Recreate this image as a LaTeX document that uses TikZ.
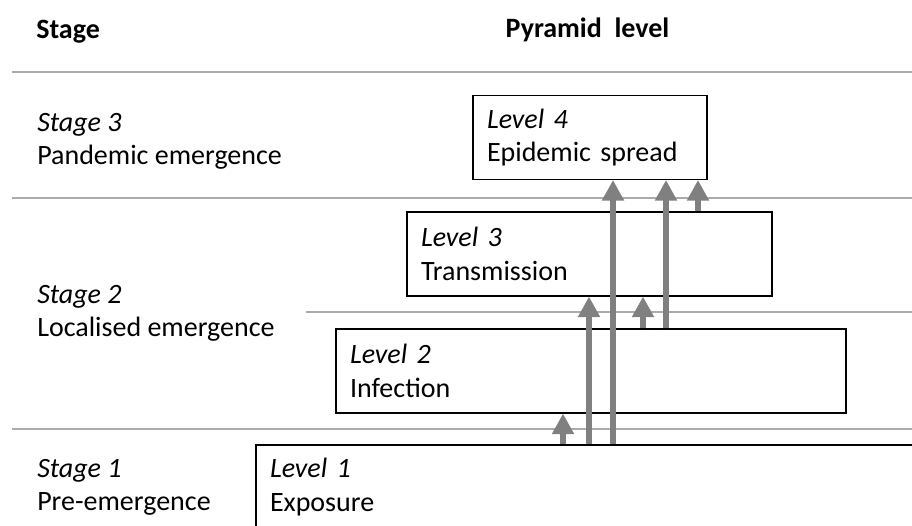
\documentclass[tikz,border=0pt]{standalone}
\usepackage{fontspec}
\setmainfont{Carlito}
\usetikzlibrary{arrows.meta}

\begin{document}
\begin{tikzpicture}[
  x=0.75pt, y=-0.75pt,
  every node/.style={font=\fontsize{21}{25}\selectfont},
  headtext/.style={font=\fontsize{21}{25}\selectfont\bfseries, inner sep=0pt, anchor=base west},
  stagetext/.style={align=left, anchor=west, inner sep=0pt},
  levelbox/.style={
    rectangle,
    draw=black,
    line width=0.8pt,
    fill=white,
    align=left,
    inner xsep=10.5pt,
    minimum height=63pt
  },
  sepline/.style={draw=black!33, line width=1.1pt},
  arrow/.style={-{Triangle[width=15.75pt, length=15.5pt]}, draw=black!50, line width=4.9pt}
]
\useasboundingbox (0,0) rectangle (912,525);
\clip (0,0) rectangle (912,525);

\draw[sepline] (12,72) -- (912,72);
\draw[sepline] (12,198) -- (912,198);
\draw[sepline] (306,312) -- (912,312);
\draw[sepline] (12,429) -- (912,429);

\node[headtext] (hstage) at (36,38) {Stage};
\node[headtext, anchor=base] (hlevel) at (587.5,37) {Pyramid\ \ level};

\node[stagetext] (st3) at (37,141) {\textit{Stage 3}\\Pandemic emergence};
\node[stagetext] (st2) at (37,313) {\textit{Stage 2}\\Localised emergence};
\node[stagetext] (st1) at (37,487) {\textit{Stage 1}\\Pre-emergence};

\node[levelbox, text width=154.5pt] (lv4) at (590,137.5) {\textit{Level 4}\\Epidemic spread};
\node[levelbox, text width=252.75pt] (lv3) at (589.5,254) {\textit{Level 3}\\Transmission};
\node[levelbox, text width=361.5pt] (lv2) at (591,371) {\textit{Level 2}\\Infection};
\node[levelbox, text width=480pt] (lv1) at (590,487) {\textit{Level 1}\\Exposure};

\coordinate (a1) at (563,0);
\coordinate (a2) at (589,0);
\coordinate (a3) at (613,0);
\coordinate (a4) at (643,0);
\coordinate (a5) at (666,0);
\coordinate (a6) at (698,0);

\draw[arrow] (a1 |- lv1.north) -- (a1 |- lv2.south);
\draw[arrow] (a2 |- lv1.north) -- (a2 |- lv3.south);
\draw[arrow] (a3 |- lv1.north) -- (a3 |- lv4.south);
\draw[arrow] (a4 |- lv2.north) -- (a4 |- lv3.south);
\draw[arrow] (a5 |- lv2.north) -- (a5 |- lv4.south);
\draw[arrow] (a6 |- lv3.north) -- (a6 |- lv4.south);
\end{tikzpicture}
\end{document}
